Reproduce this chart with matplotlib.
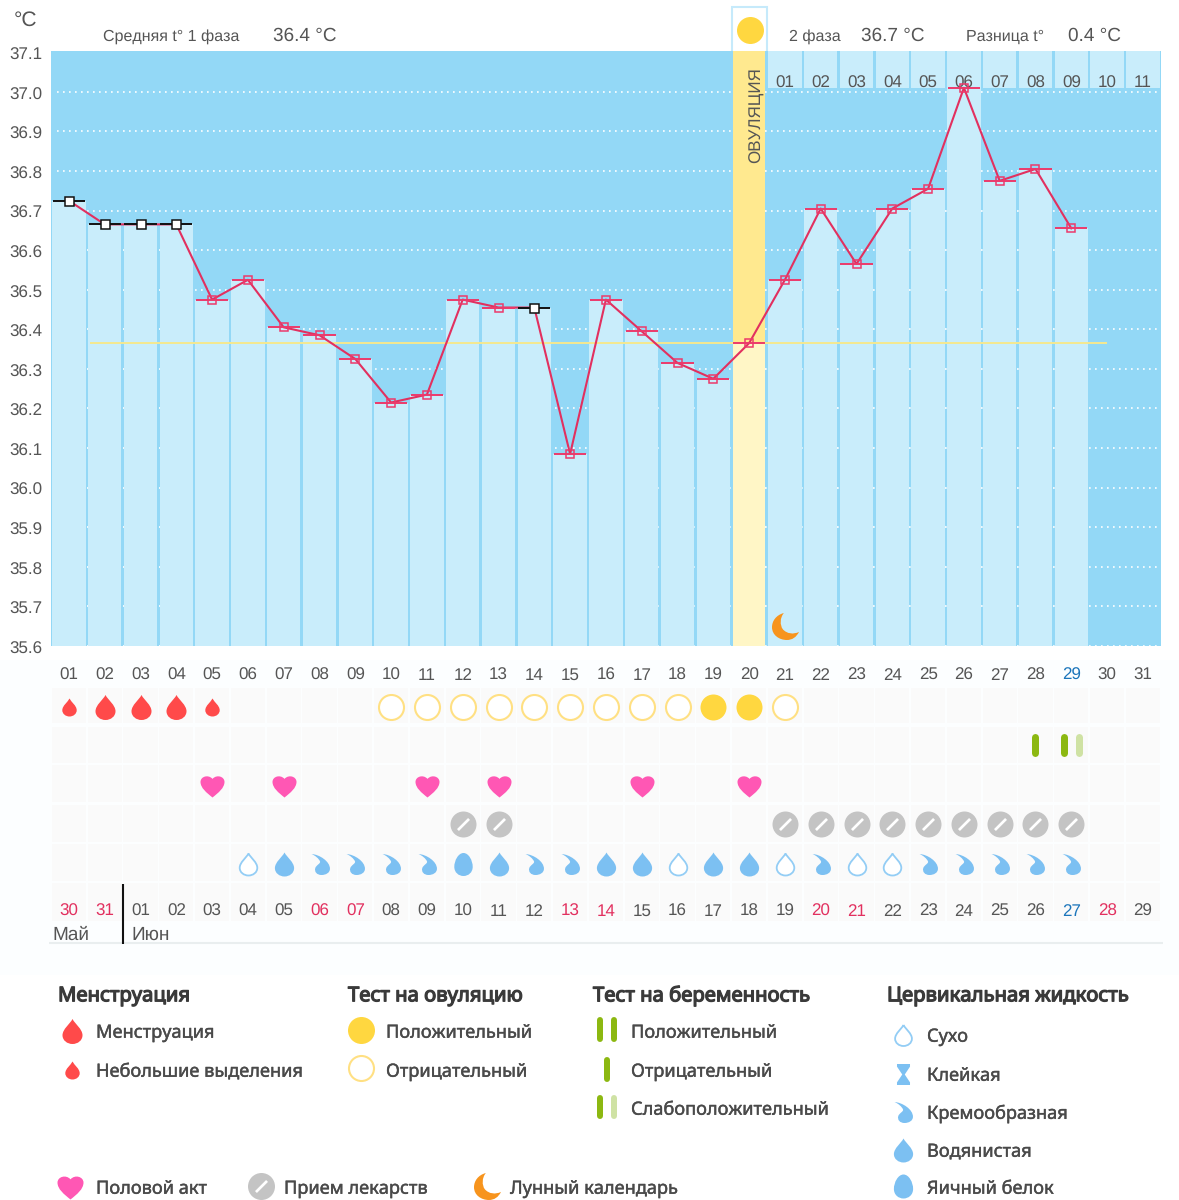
import matplotlib
matplotlib.use('Agg')
import matplotlib.pyplot as plt
import matplotlib.patheffects as pe
from matplotlib.path import Path
from matplotlib.patches import Rectangle
from matplotlib.transforms import ScaledTranslation

plt.rcParams['font.family'] = ['Liberation Sans', 'DejaVu Sans']
plt.rcParams['text.hinting'] = 'no_hinting'
plt.rcParams['text.hinting_factor'] = 1

days = list(range(1, 32))
top_labels = ['%02d' % d for d in days]
temp_days = list(range(1, 30))
temps = [36.725, 36.665, 36.665, 36.665, 36.475, 36.525, 36.405, 36.385, 36.325, 36.215,
         36.235, 36.475, 36.455, 36.455, 36.085, 36.475, 36.395, 36.315, 36.275, 36.365,
         36.525, 36.705, 36.565, 36.705, 36.755, 37.01, 36.775, 36.805, 36.655]
black_days = [1, 2, 3, 4, 14]
ovulation_day = 20
mean_temp = 36.365
y_ticks = [35.6, 35.7, 35.8, 35.9, 36.0, 36.1, 36.2, 36.3, 36.4, 36.5, 36.6, 36.7, 36.8, 36.9, 37.0, 37.1]
phase2_days = list(range(21, 32))
phase2_labels = ['01', '02', '03', '04', '05', '06', '07', '08', '09', '10', '11']

date_labels = ['30', '31', '01', '02', '03', '04', '05', '06', '07', '08', '09', '10', '11', '12', '13', '14',
               '15', '16', '17', '18', '19', '20', '21', '22', '23', '24', '25', '26', '27', '28', '29']
red_dates = [1, 2, 8, 9, 15, 16, 22, 23, 30]
blue_dates = [29]

heavy_days = [2, 3, 4]
light_days = [1, 5]
ov_pos_days = [19, 20]
ov_neg_days = [10, 11, 12, 13, 14, 15, 16, 17, 18, 21]
preg_neg_days = [28]
preg_weak_days = [29]
sex_days = [5, 7, 11, 13, 17, 20]
pill_days = [12, 13, 21, 22, 23, 24, 25, 26, 27, 28, 29]
dry_days = [6, 18, 21, 23, 24]
creamy_days = [8, 9, 10, 11, 14, 15, 22, 25, 26, 27, 28, 29]
watery_days = [7, 13, 16, 17, 19, 20]
egg_days = [12]
moon_days = [21]

LINE4 = [Path.MOVETO] + [Path.CURVE4] * 12
drop = Path([(0, 1), (0.2, 0.6), (0.8, 0.2), (0.8, -0.3), (0.8, -0.72), (0.42, -1), (0, -1),
             (-0.42, -1), (-0.8, -0.72), (-0.8, -0.3), (-0.8, 0.2), (-0.2, 0.6), (0, 1)], LINE4)
egg = Path([(0, 1), (0.45, 1), (0.8, 0.35), (0.8, -0.2), (0.8, -0.7), (0.42, -1), (0, -1),
            (-0.42, -1), (-0.8, -0.7), (-0.8, -0.2), (-0.8, 0.35), (-0.45, 1), (0, 1)], LINE4)
heart = Path([(0, -1), (-0.5, -0.6), (-1, -0.2), (-1, 0.3), (-1, 0.75), (-0.35, 0.95), (0, 0.55),
              (0.35, 0.95), (1, 0.75), (1, 0.3), (1, -0.2), (0.5, -0.6), (0, -1)], LINE4)
creamy = Path([(-0.85, 1), (-0.1, 0.95), (0.9, 0.3), (0.9, -0.4), (0.9, -0.8), (0.5, -1), (0.1, -1),
               (-0.35, -1), (-0.6, -0.7), (-0.5, -0.35), (-0.42, -0.05), (0.05, 0.1), (-0.05, 0.3),
               (-0.15, 0.55), (-0.5, 0.85), (-0.85, 1)],
              [Path.MOVETO] + [Path.CURVE4] * 15)
moon = Path([(-0.12, 1), (-0.7, 0.85), (-1, 0.4), (-1, -0.05), (-1, -0.65), (-0.45, -1), (0.1, -1),
             (0.5, -1), (0.8, -0.8), (1, -0.4), (0.6, -0.6), (0.1, -0.55), (-0.2, -0.2),
             (-0.42, 0.1), (-0.42, 0.65), (-0.12, 1)],
            [Path.MOVETO] + [Path.CURVE4] * 15)
slash = Path([(0.55, 0.78), (0.78, 0.55), (-0.55, -0.78), (-0.78, -0.55), (0.55, 0.78)],
             [Path.MOVETO, Path.LINETO, Path.LINETO, Path.LINETO, Path.CLOSEPOLY])
sticky = Path([(-0.62, 1), (0.62, 1), (0.62, 0.75), (0.12, 0), (0.62, -0.75), (0.62, -1), (-0.62, -1), (-0.62, -0.75),
               (-0.12, 0), (-0.62, 0.75), (-0.62, 1)],
              [Path.MOVETO] + [Path.LINETO] * 9 + [Path.CLOSEPOLY])

RED = '#ff4a4a'
YELLOW = '#ffd740'
YELLOW_EDGE = '#ffe083'
GREEN = '#8cb811'
GREEN_PALE = '#cfe2a4'
PINK = '#ff57b4'
GREY = '#c4c4c4'
BLUE = '#7cc0f2'
ORANGE = '#f7941d'
TEXT = '#555555'
LEG_TEXT = '#4a4a4a'
px = 0.72

fig = plt.figure(figsize=(11.79, 12), dpi=100, facecolor='white')

# pixel layer for everything outside the chart
page = fig.add_axes([0, 0, 1, 1], zorder=0)
page.set_xlim(0, 1179)
page.set_ylim(1200, 0)
page.axis('off')
page.add_patch(Rectangle((0, 660), 1179, 315, color='#fcfeff', lw=0))
page.text(14, 20, '°C', fontsize=15, color=TEXT, va='center')
page.text(103, 37, 'Средняя t° 1 фаза', fontsize=11.6, color=TEXT, va='center')
page.text(273, 36, '36.4 °C', fontsize=13.5, color=TEXT, va='center')
page.text(789, 37, '2 фаза', fontsize=11.6, color=TEXT, va='center')
page.text(861, 36, '36.7 °C', fontsize=13.5, color=TEXT, va='center')
page.text(966, 37, 'Разница t°', fontsize=11.6, color=TEXT, va='center')
page.text(1068, 36, '0.4 °C', fontsize=13.5, color=TEXT, va='center')
page.add_patch(Rectangle((732, 6.5), 35, 46, facecolor='white', edgecolor='#c6eafb', lw=1.5))
page.plot([749.5], [30], 'o', ms=27 * px, color=YELLOW, mew=0)

# temperature chart
ax = fig.add_axes([51 / 1179, 1 - 646 / 1200, 1109.8 / 1179, 595 / 1200], zorder=1)
ax.set_xlim(0.5, 31.5)
ax.set_ylim(35.6, 37.103)
ax.set_facecolor('#93d8f6')
for s in ax.spines.values():
    s.set_visible(False)
ax.set_yticks(y_ticks)
ax.set_yticklabels(['%.1f' % t for t in y_ticks], fontsize=12, color=TEXT)
ax.set_xticks(days)
ax.set_xticklabels(top_labels, fontsize=12, color=TEXT)
ax.tick_params(axis='y', length=0, pad=6.5)
ax.tick_params(axis='x', length=0, pad=24.5)
for lab in ax.get_xticklabels():
    lab.set_va('baseline')
ax.get_xticklabels()[28].set_color('#1b75bb')
for lab in ax.get_yticklabels():
    lab.set_transform(lab.get_transform() + ScaledTranslation(0, -1.5 / 100, fig.dpi_scale_trans))

ax.hlines(y_ticks[:-1], 0.67, 31.5, color='white', lw=1.2, linestyles=(0, (1, 2.6)), zorder=0.5)

bar_days = [d for d in temp_days if d != ovulation_day]
bar_temps = [t for d, t in zip(temp_days, temps) if d != ovulation_day]
ax.bar(bar_days, [t - 35.6 for t in bar_temps], bottom=35.6, width=0.93, color='#c9edfb', zorder=1)
ax.bar(phase2_days, 37.103 - 37.01, bottom=37.01, width=0.93, color='#c9edfb', zorder=1)
for d, lab in zip(phase2_days, phase2_labels):
    ax.text(d, 37.011, lab, fontsize=12, color=TEXT, ha='center', va='baseline', zorder=2)

ov_temp = temps[temp_days.index(ovulation_day)]
ax.bar(ovulation_day, 37.103 - ov_temp, bottom=ov_temp, width=0.89, color='#ffe98f', zorder=1.5)
ax.bar(ovulation_day, ov_temp - 35.6, bottom=35.6, width=0.89, color='#fff6c6', zorder=1.5)
ax.text(ovulation_day + 0.2, 36.94, 'ОВУЛЯЦИЯ', rotation=90, fontsize=12.6, color=TEXT,
        ha='center', va='center', zorder=2)

ax.hlines(mean_temp, 1.6, 30.0, color='#f5e88f', lw=1.4, zorder=2.5)
ax.plot(temp_days, temps, color='#e2305f', lw=1.5, zorder=3)
pink_t = [(d, t) for d, t in zip(temp_days, temps) if d not in black_days]
black_t = [(d, t) for d, t in zip(temp_days, temps) if d in black_days]
for pts, col, face, size in [(pink_t, '#ec3a6b', 'none', 8), (black_t, '#111111', 'white', 9)]:
    xs = [p[0] for p in pts]
    ys = [p[1] for p in pts]
    ax.hlines(ys, [x - 0.45 for x in xs], [x + 0.45 for x in xs], color=col, lw=1.4, zorder=4)
    ax.plot(xs, ys, 's', ms=size * px, mfc=face, mec=col, mew=1.1, zorder=5)
ax.plot(moon_days, [35.65] * len(moon_days), ls='', marker=moon, ms=27 * px, color=ORANGE, mew=0, zorder=5)

# rows of symbols, y in pixels
rows = fig.add_axes([51 / 1179, 1 - 945 / 1200, 1109.8 / 1179, 290 / 1200], zorder=2)
rows.set_xlim(0.5, 31.5)
rows.set_ylim(945, 655)
rows.axis('off')
row_y = [707, 745, 785, 824, 864]
cell_tops = [688, 727, 765, 805, 844, 883]
cell_h = [35, 36, 37, 37, 37, 38]
for top, h in zip(cell_tops, cell_h):
    rows.bar(days, h, bottom=top, width=0.96, color='#fafafa', zorder=1)


def put(ax_, xs, y, marker, size, color, **kw):
    ax_.plot(xs, [y] * len(xs), ls='', marker=marker, ms=size * px, color=color, mew=kw.pop('mew', 0), zorder=3, **kw)


put(rows, heavy_days, row_y[0], drop, 25, RED)
put(rows, light_days, row_y[0], drop, 18, RED)
put(rows, ov_pos_days, row_y[0], 'o', 26, YELLOW)
put(rows, ov_neg_days, row_y[0], 'o', 25, 'white', mec=YELLOW_EDGE, mew=1.5)
rows.vlines(preg_neg_days, 737, 753, color=GREEN, lw=7 * px, capstyle='round', zorder=3)
rows.vlines([d - 0.21 for d in preg_weak_days], 737, 753, color=GREEN, lw=7 * px, capstyle='round', zorder=3)
rows.vlines([d + 0.21 for d in preg_weak_days], 737, 753, color=GREEN_PALE, lw=7 * px, capstyle='round', zorder=3)
put(rows, sex_days, row_y[2], heart, 24, PINK)
put(rows, pill_days, row_y[3], 'o', 26, GREY)
put(rows, pill_days, row_y[3], slash, 13, 'white')
put(rows, dry_days, row_y[4], drop, 22, 'white', mec='#93cdf5', mew=1.3)
put(rows, creamy_days, row_y[4], creamy, 21, BLUE)
put(rows, watery_days, row_y[4], drop, 24, BLUE)
put(rows, egg_days, row_y[4], egg, 23, BLUE)

for d, lab in zip(days, date_labels):
    col = '#e2305f' if d in red_dates else '#1b75bb' if d in blue_dates else TEXT
    rows.text(d, 916, lab, fontsize=12, color=col, ha='center', va='baseline', zorder=3)
rows.text(0.55, 934.5, 'Май', fontsize=13.5, color=TEXT, va='center', zorder=3)
rows.text(2.75, 934.5, 'Июн', fontsize=13.5, color=TEXT, va='center', zorder=3)
rows.vlines(2.5, 884, 944, color='#111111', lw=1.5, zorder=3)
rows.hlines(942.5, 0.45, 31.55, color='#e9eeef', lw=1.5, zorder=2, clip_on=False)

# legend
LF = ['Noto Sans', 'DejaVu Sans']


def leg_text(x, y, s, bold=False):
    col = '#3a3a3a' if bold else LEG_TEXT
    t = page.text(x, y + 2, s, family=LF, fontsize=14.6 if bold else 13.1, color=col, va='center')
    t.set_path_effects([pe.withStroke(linewidth=0.9 if bold else 0.3, foreground=col)])


leg_text(58, 994, 'Менструация', True)
leg_text(348, 994, 'Тест на овуляцию', True)
leg_text(593, 994, 'Тест на беременность', True)
leg_text(887, 994, 'Цервикальная жидкость', True)

put(page, [72], 1031, drop, 25, RED)
leg_text(96, 1031, 'Менструация')
put(page, [72], 1070, drop, 18, RED)
leg_text(96, 1070, 'Небольшие выделения')

put(page, [361], 1030, 'o', 27, YELLOW)
leg_text(386, 1031, 'Положительный')
put(page, [361], 1068, 'o', 25, 'white', mec=YELLOW_EDGE, mew=1.5)
leg_text(386, 1070, 'Отрицательный')

page.vlines([600, 614], 1020, 1039, color=GREEN, lw=6 * px, capstyle='round')
leg_text(631, 1031, 'Положительный')
page.vlines([607], 1060, 1079, color=GREEN, lw=6 * px, capstyle='round')
leg_text(631, 1070, 'Отрицательный')
page.vlines([600], 1098, 1116, color=GREEN, lw=6 * px, capstyle='round')
page.vlines([614], 1098, 1116, color=GREEN_PALE, lw=6 * px, capstyle='round')
leg_text(631, 1108, 'Слабоположительный')

put(page, [903], 1035, drop, 21, 'white', mec='#93cdf5', mew=1.3)
leg_text(927, 1035, 'Сухо')
put(page, [903], 1074, sticky, 21, BLUE)
leg_text(927, 1074, 'Клейкая')
put(page, [903], 1112, creamy, 21, BLUE)
leg_text(927, 1112, 'Кремообразная')
put(page, [903], 1150, drop, 24, BLUE)
leg_text(927, 1150, 'Водянистая')
put(page, [903], 1186, egg, 24, BLUE)
leg_text(927, 1187, 'Яичный белок')

put(page, [70], 1186, heart, 26, PINK)
leg_text(96, 1187, 'Половой акт')
put(page, [261], 1186, 'o', 27, GREY)
put(page, [261], 1186, slash, 13, 'white')
leg_text(284, 1187, 'Прием лекарств')
put(page, [487], 1186, moon, 27, ORANGE)
leg_text(510, 1187, 'Лунный календарь')

fig.savefig('out.png', dpi=100)
